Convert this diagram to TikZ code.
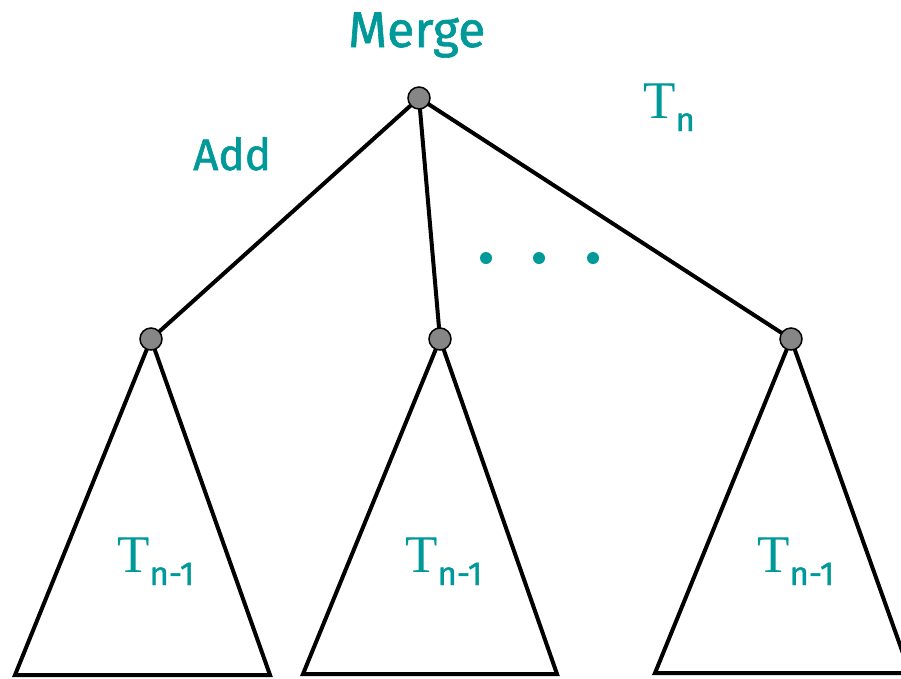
\documentclass[tikz,border=0pt]{standalone}
\usepackage{fontspec}
\newfontfamily\labfont[FakeBold=1.2]{Fira Sans}
\newfontfamily\tserif{Liberation Serif}
\definecolor{teal}{RGB}{0,153,153}
\newcommand{\Tlabel}[1]{{\fontsize{53pt}{53pt}\tserif T}\raisebox{-13pt}{\fontsize{33pt}{33pt}\labfont #1}}
\begin{document}
\begin{tikzpicture}[x=1pt,y=-1pt,
  edge/.style={line width=4pt},
  tri/.style={line width=4pt, line join=miter},
  vertex/.style={circle, draw=black, line width=1.5pt, fill=gray!95!white, minimum size=22pt, inner sep=0pt},
  dot/.style={circle, fill=teal, minimum size=12pt, inner sep=0pt},
  lab/.style={text=teal, inner sep=0pt, anchor=base west}]
\useasboundingbox (0,0) rectangle (901,678);
\clip (0,0) rectangle (901,678);

% tree vertices
\coordinate (r) at (419,98);
\coordinate (a) at (151,339);
\coordinate (b) at (440,339);
\coordinate (c) at (791,339);

% bases of the subtrees
\coordinate (al) at (15,675);  \coordinate (ar) at (270,675);
\coordinate (bl) at (303,674); \coordinate (br) at (557,674);
\coordinate (cl) at (655,673); \coordinate (cr) at (910,673);

% subtrees
\draw[tri] (a) -- (al) -- (ar) -- cycle;
\draw[tri] (b) -- (bl) -- (br) -- cycle;
\draw[tri] (c) -- (cl) -- (cr) -- cycle;

% edges from the root
\draw[edge] (r) -- (a);
\draw[edge] (r) -- (b);
\draw[edge] (r) -- (c);

% vertex discs
\node[vertex] (rn) at (r) {};
\node[vertex] (an) at (a) {};
\node[vertex] (bn) at (b) {};
\node[vertex] (cn) at (c) {};

% ellipsis
\node[dot] (d1) at (486,258) {};
\node[dot] (d2) at (539,258) {};
\node[dot] (d3) at (593,258) {};

% labels
\node[lab] (merge) at (348,47) {\fontsize{50pt}{50pt}\labfont Merge};
\node[lab] (add) at (193,170) {\fontsize{44pt}{44pt}\labfont Add};
\node[lab] (tn) at (643,118) {\Tlabel{n}};
\node[lab] (t1) at (117,572) {\Tlabel{n-1}};
\node[lab] (t2) at (405,572) {\Tlabel{n-1}};
\node[lab] (t3) at (757,572) {\Tlabel{n-1}};
\end{tikzpicture}
\end{document}
